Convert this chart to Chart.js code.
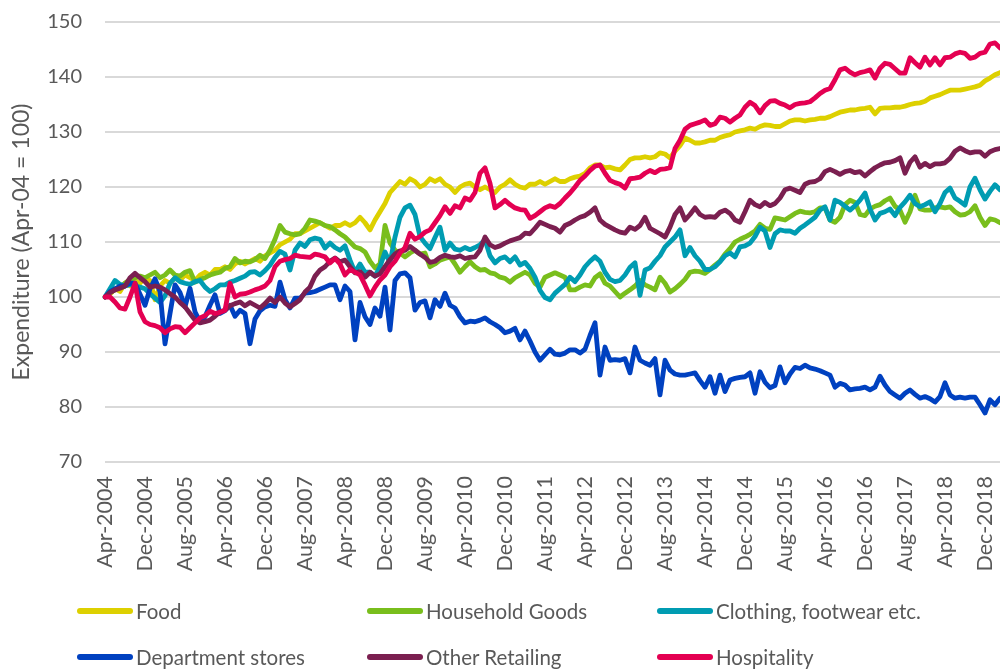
<!DOCTYPE html>
<html><head><meta charset="utf-8">
<script src="https://cdn.jsdelivr.net/npm/chart.js@4.4.1/dist/chart.umd.min.js"></script>
<style>
html,body{margin:0;padding:0;background:#fff;overflow:hidden}
#wrap{position:relative;width:1000px;height:671px}
#legend{position:absolute;left:0;top:0;width:1000px;height:671px;pointer-events:none;font-family:Lato,sans-serif;font-size:20.5px;color:#595959}
.item{position:absolute;display:flex;align-items:center;white-space:nowrap;height:30px}
.swatch{width:56px;height:6px;border-radius:3px;margin-right:3px}
</style></head><body>
<div id="wrap"><canvas id="c" width="1000" height="671"></canvas><div id="legend"></div></div>
<script>
const seriesNames = ['Food','Household Goods','Clothing, footwear etc.','Department stores','Other Retailing','Hospitality'];
const seriesColors = ['#DDD000','#79BE1C','#009CB2','#0041C0','#7B1F50','#E40052'];
const tickLabels = ['Apr-2004','Dec-2004','Aug-2005','Apr-2006','Dec-2006','Aug-2007','Apr-2008','Dec-2008','Aug-2009','Apr-2010','Dec-2010','Aug-2011','Apr-2012','Dec-2012','Aug-2013','Apr-2014','Dec-2014','Aug-2015','Apr-2016','Dec-2016','Aug-2017','Apr-2018','Dec-2018'];

const food = [100,100.5,101.5,101,102.5,102,103,102.5,103.5,103,
 99.5,102,103,102.5,103.5,103,104,103.5,103,104,
 104.5,104,105,105,105.5,105,106,106.5,106,106.5,
 107,106.5,107.5,108,108.5,109.5,110,110.5,111.5,111.5,
 112,112.5,113,113.5,113,112.5,113,113,113.5,113,
 113.5,114.5,113.5,112.2,114,115.5,117,119,120,121,
 120.5,121.5,121,120,120.5,121.5,121,121.5,120.5,120,
 119,120,120.5,120.7,120,119.5,120,119.5,119,120,
 120.5,121.3,120.5,120,119.8,120.5,120.5,121,120.5,121,
 121.5,121,121,121.5,121.8,122,122.5,123.5,124,124,
 123.5,123.6,123.3,123.1,124,125,125.3,125.3,125.5,125.3,
 125.5,126.2,126,125.3,126.5,127.5,128.9,128.5,128,128,
 128.2,128.5,128.5,129,129.3,129.5,130,130.2,130.4,130.7,
 130.5,131,131.3,131.2,131,131,131.5,132,132.2,132.2,
 132,132.2,132.3,132.5,132.5,132.8,133.2,133.6,133.8,134,
 134,134.2,134.3,134.5,133.3,134.3,134.4,134.4,134.5,134.5,
 134.7,135,135.2,135.3,135.6,136.2,136.5,136.8,137.2,137.6,
 137.6,137.6,137.8,138,138.2,138.5,139.3,139.8,140.4,140.8];

const householdGoods = [100,100.8,101.3,101.8,102.5,103.2,103.5,103.8,103.5,104,
 104.5,103.5,104,104.9,104,103.8,104.5,104.8,102.7,103.2,
 103.5,104,104.3,104.5,105.2,105.5,107,106.2,106.5,106.4,
 106.8,107.6,107,108.5,110.5,113,111.8,111.5,111.3,111.5,
 112.5,114,113.8,113.5,113,112.8,112.2,111.5,110.9,110,
 109.1,108.8,108.2,106.5,105.3,106,113,109.8,108.5,108,
 107.3,108,108.5,107.8,108,105.5,106,106.7,107,107.3,
 106,104.5,105.5,106.4,105.5,104.9,105,104.4,104.2,103.6,
 103.4,102.7,103.5,104,104.5,104,102.5,101.8,103.6,104,
 104.4,104,103.6,101.3,101.3,101.8,102.2,102,103.5,104.2,
 102.5,102,101,100,100.7,101.3,102,103,102.2,101.8,
 101.3,103.6,102.5,100.9,101.5,102.3,103.2,104.5,104.7,104.6,
 104.3,105,105.8,106.5,107.8,108.8,110,110.5,110.9,111.4,
 112,113.2,112.5,112.3,114.4,114.2,114,114.6,115.2,115.6,
 115.4,115.3,115.5,116.2,116.2,114,113.6,114.5,116.8,117.6,
 117.2,115,114.8,116,116.5,116.8,117.5,118,116.5,115.8,
 113.6,115.5,118.5,116,115.8,115.8,116.2,116.4,116.2,116.4,
 115.5,114.9,115,115.5,116.6,114.5,113,114.2,114,113.5];

const clothing = [100,101.5,103,102.3,102,102.3,102,101.8,101.5,100.6,
 99.8,99,100.2,102.5,103.5,102.8,102.5,102.3,102.8,103,
 101.8,101,101.5,102.2,102.2,102.7,103,103.4,103.8,104.5,
 104.6,104,104.8,105.8,107.2,108.3,107.8,104.9,108.5,109.8,
 109.2,110.4,110.7,110.5,108.9,109.8,109,108.5,109.3,106.7,
 104.5,106,104.5,104.5,103.8,105.5,108.2,106.2,110.9,114.5,
 116.2,116.7,115,111,109.8,108.8,110.8,112.7,108.5,109.8,
 108.7,108.5,109,108.6,109,109.5,110.4,107.5,106.2,107,
 107.3,106.4,107.3,105.8,106.3,105.2,103.6,101.2,99.9,99.5,
 100.7,101.5,102.3,103.6,102.8,104,105.5,106.5,107.3,106.5,
 104.5,103.2,102.8,103,104,105.4,106.2,100.3,104.9,105.3,
 106.5,107.5,109.1,110,110.9,112.2,107.5,109,107.5,106.5,
 105,105,105.5,106.4,107.5,108,107.3,109.1,109.3,109.8,
 111,112.7,112,109,111.5,112.2,112,112,111.6,112.5,
 113.1,113.8,114.5,115.8,116.4,114,117.6,117.2,116.5,115.8,
 116.6,117.6,118.9,116,114,115.2,115.5,116,114.8,116.3,
 117.3,118.5,117,116.4,116.8,117.3,115.5,117,119,119.8,
 118,117.4,116.7,120,121.6,119.5,117.8,119.2,120.4,119.5];

const departmentStores = [100,101,101.5,102,102,102.5,102.5,100.5,98.5,101.5,
 103.3,101,91.5,97,102.2,100.8,98.2,101.6,97.3,95.5,
 96.4,98.5,100.4,97,97.5,98.5,96.5,97.6,97,91.5,
 96,97.5,98.2,98.5,98.3,102.7,99.5,98,99.8,99.8,
 100.7,100.8,101,101.4,101.8,102.2,102.2,99.5,102,101,
 92.2,99,96.4,95,98,96.5,101.8,94,103,104.2,
 104.4,103.5,97.6,99,99.3,96.2,99.5,98.3,100.7,98.5,
 98,96.4,95.3,95.6,95.5,95.8,96.2,95.5,95,94.4,
 93.5,93.8,94.3,92.2,93.8,92,90,88.5,89.5,90.5,
 89.6,89.5,89.8,90.4,90.4,89.8,90.5,93,95.3,85.8,
 90.9,88.5,88.6,88.5,88.8,86.2,90.9,88.5,88,87.6,
 88.8,82.2,88.5,86.7,86,85.8,85.8,86,86.2,84.8,
 83.6,85.5,82.5,85.8,82.8,84.9,85.2,85.4,85.5,86.2,
 82.5,86.4,84.5,83.5,83.9,87.3,84.4,86,87.2,87,
 87.6,87.1,86.9,86.6,86.2,85.8,83.6,84.3,84,83.1,
 83.3,83.4,83.6,83.1,83.6,85.6,84,82.8,82.2,81.6,
 82.5,83.1,82.3,81.6,81.9,81.5,80.9,81.9,84.4,82.2,
 81.6,81.8,81.6,81.8,81.8,80.4,78.9,81.3,80.4,81.6];

const otherRetailing = [100,100.8,101.3,101.6,102,103.5,104.3,103.5,102.8,101.8,
 102,101.8,101.3,100.6,100,99,98.2,97,95.8,95.3,
 95.5,95.8,96.5,97.3,97.6,98.4,98.8,99.1,98.4,99,
 98.5,98,98.8,99.8,99,100,98.9,98.2,98.8,99.5,
 100.9,101.8,103.8,104.9,105.5,106.5,107.1,106.4,106.7,105.5,
 104.4,104.6,103.6,104.5,103.8,104.2,105.5,106.8,107.8,108.4,
 108.5,109.2,108.5,107.8,107.2,106.3,106.5,107.2,107.6,107.3,
 107.2,107.5,107,107.2,107.3,108.5,110.9,109.5,109,109.3,
 109.8,110.2,110.5,110.8,111.6,111.5,112.5,113.6,113.2,112.8,
 112.5,111.8,113,113.4,114,114.5,114.8,115.4,116.2,114,
 113.2,112.7,112.2,111.8,111.6,112.7,112.3,113,114.5,112.5,
 112,111.5,110.9,112.7,115,116.2,114,115,116.2,115,
 114.5,114.6,114.5,115.4,115.8,115.2,114,113.6,115.5,117.6,
 116.8,116.4,117.2,116.6,117,118,119.5,119.8,119.4,119,
 120.5,120.9,121,121.5,122.8,123.2,122.8,122.3,122.8,123,
 122.6,122.8,122,122.8,123.5,124,124.4,124.5,124.8,125.3,
 122.5,124.5,125.5,123.6,124.3,123.7,124.2,124.2,124.4,125.2,
 126.5,127.1,126.6,126.2,126.4,126.4,125.6,126.4,126.8,127];

const hospitality = [100,100,99.1,98,97.8,100,102.5,97.3,95.5,95,
 94.8,94.4,93.5,94.2,94.6,94.5,93.5,94.4,95.3,96.2,
 96.6,97.4,97,97.2,97.6,102.5,100,100.5,100.6,100.9,
 101.3,101.6,102,103,105.5,106.5,106.8,107,107.6,107.4,
 107.3,107.2,107.8,107.6,107.3,106.2,107,106,104,105,
 104.5,104,102.2,100.2,101.8,103.1,104,105.5,106.5,108,
 109,111.6,110.5,111,111.8,112.2,113.5,114.8,116.4,115.2,
 116.6,116.2,118,117.6,119,122.5,123.5,120.7,116.2,116.8,
 117.6,116.8,116.2,115.9,115.8,114.3,114.8,115.5,116.2,116.6,
 116.3,117,118,118.9,120,121.2,122,123,123.8,124,
 122.5,121.2,120.8,120.5,119.8,121.5,121.6,121.8,122.5,123,
 122.6,123.2,123.3,123.5,127,128.5,130.5,131.2,131.5,131.8,
 132.2,131.2,131.5,132.7,132.5,131.8,132.5,133.1,134.5,135.4,
 134.8,133.5,134.8,135.6,135.7,135.2,134.9,134.4,135,135.2,
 135.3,135.5,136.2,137,137.6,137.9,139.5,141.3,141.6,140.9,
 140.4,140.8,141,141.3,139.8,141.6,142.5,142.3,141.5,140.7,
 140.7,143.5,142.6,141.8,143.6,142.2,143.5,142.2,143.5,143.6,
 144.2,144.5,144.3,143.4,143.6,144.3,144.5,146,146.2,145.3];

const seriesValues = [food, householdGoods, clothing, departmentStores, otherRetailing, hospitality];

// monthly categories starting April 2004
const monthNames = ['Jan','Feb','Mar','Apr','May','Jun','Jul','Aug','Sep','Oct','Nov','Dec'];
const categories = food.map((_, i) => {
  const k = 3 + i;
  return monthNames[k % 12] + '-' + (2004 + Math.floor(k / 12));
});

const FONT = 'Lato, sans-serif';
const TEXT = '#595959';

const datasets = seriesNames.map((name, i) => ({
  label: name,
  data: seriesValues[i],
  borderColor: seriesColors[i],
  backgroundColor: seriesColors[i],
  borderWidth: 4.8,
  pointRadius: 0,
  pointHoverRadius: 0,
  tension: 0,
  fill: false,
  borderJoinStyle: 'round',
  borderCapStyle: 'round',
  order: seriesNames.length - i
}));

new Chart(document.getElementById('c'), {
  type: 'line',
  data: { labels: categories, datasets },
  options: {
    responsive: false,
    animation: false,
    devicePixelRatio: 1,
    layout: { padding: { top: 22, right: 0, bottom: 81, left: 0 } },
    plugins: { legend: { display: false }, tooltip: { enabled: false } },
    scales: {
      x: {
        type: 'category',
        offset: false,
        grid: { display: false, drawTicks: false },
        border: { display: false },
        afterFit: s => { s.height = 128; s.paddingLeft = 0; s.paddingRight = 0; },
        ticks: {
          autoSkip: false,
          maxRotation: 90,
          minRotation: 90,
          padding: 14,
          color: TEXT,
          font: { family: FONT, size: 21.5 },
          callback: (v, idx) => tickLabels.includes(categories[idx]) ? categories[idx] : ''
        }
      },
      y: {
        min: 70,
        max: 150,
        afterFit: s => { s.width = 105; s.paddingTop = 0; s.paddingBottom = 0; },
        grid: { color: '#d9d9d9', lineWidth: 2, drawTicks: false },
        border: { display: false },
        ticks: { stepSize: 10, padding: 23, color: TEXT, font: { family: FONT, size: 20 } },
        title: {
          display: true,
          text: 'Expenditure (Apr-04 = 100)',
          color: TEXT,
          font: { family: FONT, size: 23, weight: 'normal' },
          padding: { top: 8, bottom: 0 }
        }
      }
    }
  }
});

// legend (3 columns x 2 rows)
const legendCols = [77, 367, 657];
const legendRows = [611, 657];
const leg = document.getElementById('legend');
seriesNames.forEach((name, i) => {
  const it = document.createElement('div');
  it.className = 'item';
  it.style.left = legendCols[i % 3] + 'px';
  it.style.top = (legendRows[Math.floor(i / 3)] - 15) + 'px';
  const sw = document.createElement('span');
  sw.className = 'swatch';
  sw.style.background = seriesColors[i];
  const tx = document.createElement('span');
  tx.textContent = name;
  it.appendChild(sw); it.appendChild(tx);
  leg.appendChild(it);
});
</script>
</body></html>
